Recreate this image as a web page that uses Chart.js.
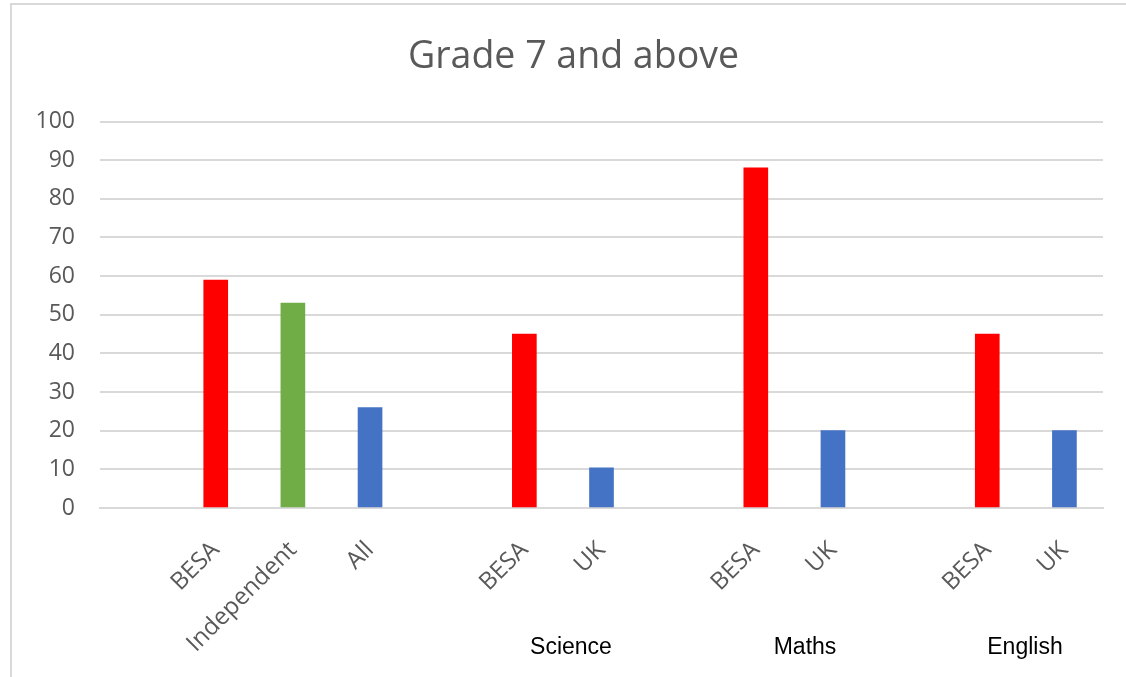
<!DOCTYPE html>
<html>
<head>
<meta charset="utf-8">
<script src="https://cdn.jsdelivr.net/npm/chart.js@4"></script>
<style>
  html, body { margin: 0; padding: 0; background: #ffffff; width: 1126px; height: 677px; overflow: hidden; }
  #frame { position: absolute; left: 10px; top: 3px; width: 1300px; height: 800px;
           border-left: 2px solid #d9d9d9; border-top: 2px solid #d9d9d9; }
  #wrap { position: absolute; left: 0; top: 0; width: 1126px; height: 677px; }
</style>
</head>
<body>
<div id="frame"></div>
<div id="wrap"><canvas id="c" width="1126" height="677"></canvas></div>
<script>
// ---- data ----
const categories = ['', 'BESA', 'Independent', 'All', '', 'BESA', 'UK', '', 'BESA', 'UK', '', 'BESA', 'UK'];
const values     = [null, 59, 53, 26, null, 45, 10.4, null, 88, 20, null, 45, 20];
const yTicks     = [0, 10, 20, 30, 40, 50, 60, 70, 80, 90, 100];
const groupLabels = ['Science', 'Maths', 'English'];
const titleText = 'Grade 7 and above';

// ---- styles ----
const colorByLabel = { 'BESA': '#FF0000', 'Independent': '#70AD47', 'All': '#4472C4', 'UK': '#4472C4' };
const barColors = categories.map(c => colorByLabel[c] || '#4472C4');
const groupLabelX = [571, 805, 1025];
const groupLabelY = 654;
const titleBoxLeft = 44;

const groupLabelPlugin = {
  id: 'groupLabels',
  afterLayout(chart) {
    if (chart.titleBlock) chart.titleBlock.left = titleBoxLeft;
  },
  afterDraw(chart) {
    const ctx = chart.ctx;
    ctx.save();
    ctx.font = '23px "Liberation Sans", Arial, sans-serif';
    ctx.fillStyle = '#000000';
    ctx.textAlign = 'center';
    ctx.textBaseline = 'alphabetic';
    groupLabels.forEach((t, i) => ctx.fillText(t, groupLabelX[i], groupLabelY));
    ctx.restore();
  }
};

new Chart(document.getElementById('c'), {
  type: 'bar',
  data: {
    labels: categories,
    datasets: [{
      data: values,
      backgroundColor: barColors,
      borderWidth: 0,
      barThickness: 24,
      categoryPercentage: 1,
      barPercentage: 1
    }]
  },
  options: {
    responsive: false,
    animation: false,
    events: [],
    layout: { padding: { left: 0, right: 23, top: 0, bottom: 0 } },
    plugins: {
      legend: { display: false },
      tooltip: { enabled: false },
      title: {
        display: true,
        text: titleText,
        color: '#595959',
        font: { family: '"Open Sans", sans-serif', size: 37.5, weight: 'normal' },
        padding: { top: 35, bottom: 41.5 }
      }
    },
    scales: {
      x: {
        grid: { display: false, drawTicks: false },
        border: { display: true, color: '#d9d9d9', width: 2 },
        ticks: {
          color: '#595959',
          font: { family: '"Open Sans", sans-serif', size: 24 },
          maxRotation: 45, minRotation: 45,
          autoSkip: false,
          padding: 28
        },
        afterFit(scale) { scale.height = 169; }
      },
      y: {
        min: 0, max: 100,
        afterBuildTicks(scale) { scale.ticks = yTicks.map(v => ({ value: v })); },
        grid: { color: '#d9d9d9', lineWidth: 2, drawTicks: false },
        border: { display: false },
        ticks: {
          color: '#595959',
          font: { family: '"Open Sans", sans-serif', size: 23 },
          padding: 25
        },
        afterFit(scale) { scale.width = 100; }
      }
    }
  },
  plugins: [groupLabelPlugin]
});
</script>
</body>
</html>
